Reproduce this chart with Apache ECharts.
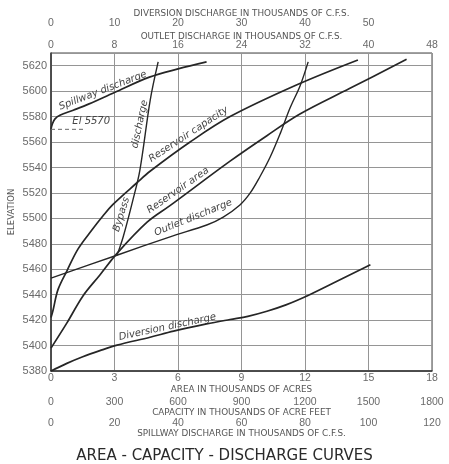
<!DOCTYPE html>
<html>
<head>
<meta charset="utf-8">
<script src="https://cdn.jsdelivr.net/npm/echarts@6/dist/echarts.min.js"></script>
<style>
html,body{margin:0;padding:0;background:#fff;}
#c{width:449px;height:464px;}
</style>
</head>
<body>
<div id="c"></div>
<script>
// ---- Data ----
// Spillway discharge (thousands of c.f.s.) vs elevation
const spillwayQ    = [0, 0.4, 1.2, 2.8, 7, 12, 20, 31, 40, 49];
const spillwayElev = [5570, 5574, 5578, 5581, 5585, 5590, 5599, 5611, 5617.5, 5623];
// El 5570 reference (spillway crest), spillway units
const crestQ    = [0, 11];
const crestElev = [5570, 5570];
// Bypass discharge (outlet scale, thousands of c.f.s.)
const bypassQ    = [8.3, 8.6, 9.1, 10.3, 11.2, 12.5, 13.5];
const bypassElev = [5471, 5476, 5485.5, 5514, 5538, 5593, 5623];
// Outlet discharge (thousands of c.f.s.)
const outletQ    = [0, 8.3, 15, 19.7, 21.7, 23.8, 25.1, 26.3, 27.6, 28.9, 30.1, 31.4, 32.4];
const outletElev = [5453, 5471, 5485.5, 5495, 5501, 5510.5, 5520, 5532.5, 5548, 5567, 5586.5, 5604.5, 5623];
// Reservoir capacity (thousands of acre feet)
const capacityQ    = [0, 10, 33, 76, 128, 194, 246, 293, 406, 468, 657, 846, 1162, 1450];
const capacityElev = [5422, 5428, 5444, 5459, 5476, 5491, 5502, 5511, 5528, 5537, 5560, 5580, 5605, 5624.5];
// Reservoir area (thousands of acres)
const areaQ    = [0, 0.76, 1.51, 2.31, 3.12, 4.54, 5.62, 8.46, 10.2, 11.76, 14.1, 16.8];
const areaElev = [5398, 5418, 5439, 5455.5, 5472.5, 5497, 5510, 5545, 5565, 5582, 5602, 5625];
// Diversion discharge (thousands of c.f.s.)
const diversionQ    = [0, 2.5, 5, 7.7, 10.4, 15.6, 19.3, 24.5, 28.2, 31, 34, 37, 40.3, 44, 50.3];
const diversionElev = [5380, 5386, 5391.2, 5396, 5400.3, 5406.5, 5411.3, 5417, 5420.5, 5423, 5427, 5432, 5439, 5448, 5463.5];

// Axis ranges / tick steps
const elevRange = [5380, 5630], elevStep = 20;
const areaRange = [0, 18], areaStep = 3;
const capRange = [0, 1800], capStep = 300;
const spillRange = [0, 120], spillStep = 20;
const outletRange = [0, 48], outletStep = 8;
const divRange = [0, 60], divStep = 10;

// Curve labels: text, anchor in (area, elevation) coordinates, rotation in degrees
const curveLabels = [
  {text: 'Spillway discharge', at: [2.45, 5600.5], rot: 21},
  {text: 'El 5570', at: [1.9, 5576], rot: 0},
  {text: 'discharge', at: [4.2, 5574], rot: 78},
  {text: 'Bypass', at: [3.33, 5503], rot: 73},
  {text: 'Reservoir capacity', at: [6.5, 5566], rot: 33.5},
  {text: 'Reservoir area', at: [6.0, 5522], rot: 35},
  {text: 'Outlet discharge', at: [6.72, 5500.5], rot: 22},
  {text: 'Diversion discharge', at: [5.5, 5414.5], rot: 12}
];

const zip = (a, b) => a.map((v, i) => [v, b[i]]);

const LINE = '#262626';
const GRID = '#959595';
const TXT = '#555';
const FONT = 'Liberation Sans';
const NAMEFONT = 'DejaVu Sans';

function sideAxis(name, range, step, pos, offset, nameGap, extra) {
  return Object.assign({
    type: 'value', position: pos, offset: offset,
    min: range[0], max: range[1], interval: step,
    name: name, nameLocation: 'middle', nameGap: nameGap, nameMoveOverlap: false,
    nameTextStyle: {fontFamily: NAMEFONT, fontSize: 8.8, color: TXT},
    axisLine: {show: false}, axisTick: {show: false},
    axisLabel: {fontFamily: FONT, fontSize: 10.5, color: '#6a6a6a', margin: 2, formatter: v => String(v)},
    splitLine: {show: false}
  }, extra || {});
}

const chart = echarts.init(document.getElementById('c'), null, {renderer: 'canvas'});

const lineSeries = (name, data, xi, extra) => Object.assign({
  name: name, type: 'line', xAxisIndex: xi, yAxisIndex: 0,
  data: data, showSymbol: false, smooth: 0.35, silent: true,
  lineStyle: {color: LINE, width: 1.7}
}, extra || {});

const option = {
  animation: false,
  backgroundColor: '#fff',
  title: {
    text: 'AREA - CAPACITY - DISCHARGE CURVES',
    left: 'center', top: 444,
    textStyle: {fontFamily: 'DejaVu Sans', fontSize: 15, fontWeight: 'normal', color: '#2a2a2a'}
  },
  grid: {left: 51, right: 17, top: 53, bottom: 93, show: true, borderColor: '#444', borderWidth: 1,
    backgroundColor: 'transparent', containLabel: false, outerBoundsMode: 'none'},
  xAxis: [
    sideAxis('AREA IN THOUSANDS OF ACRES', areaRange, areaStep, 'bottom', 0, 14, {
      axisLine: {show: true, lineStyle: {color: '#333', width: 1.5}},
      splitLine: {show: true, lineStyle: {color: GRID, width: 1}}
    }),
    sideAxis('CAPACITY IN THOUSANDS OF ACRE FEET', capRange, capStep, 'bottom', 24, 13),
    sideAxis('SPILLWAY DISCHARGE IN THOUSANDS OF C.F.S.', spillRange, spillStep, 'bottom', 45, 13),
    sideAxis('OUTLET DISCHARGE IN THOUSANDS OF C.F.S.', outletRange, outletStep, 'top', 0, 12),
    sideAxis('DIVERSION DISCHARGE IN THOUSANDS OF C.F.S.', divRange, divStep, 'top', 22, 12.5, {
      axisLabel: {fontFamily: FONT, fontSize: 10.5, color: '#6a6a6a', margin: 2, showMaxLabel: false, formatter: v => String(v)}
    })
  ],
  yAxis: [{
    type: 'value', min: elevRange[0], max: elevRange[1], interval: elevStep,
    name: 'ELEVATION', nameLocation: 'middle', nameGap: 35, nameMoveOverlap: false,
    nameTextStyle: {fontFamily: NAMEFONT, fontSize: 8.5, color: TXT},
    axisLine: {show: true, lineStyle: {color: '#333', width: 1.5}},
    axisTick: {show: false},
    axisLabel: {fontFamily: FONT, fontSize: 11, color: '#6a6a6a', margin: 4, showMaxLabel: false,
      formatter: v => (v > 5620 ? '' : String(v))},
    splitLine: {show: true, lineStyle: {color: GRID, width: 1}}
  }],
  series: [
    lineSeries('Spillway discharge', zip(spillwayQ, spillwayElev), 2),
    lineSeries('El 5570', zip(crestQ, crestElev), 2, {smooth: false, lineStyle: {color: '#666', width: 1, type: [4, 3]}}),
    lineSeries('Bypass discharge', zip(bypassQ, bypassElev), 3, {lineStyle: {color: LINE, width: 1.4}}),
    lineSeries('Outlet discharge', zip(outletQ, outletElev), 3, {lineStyle: {color: LINE, width: 1.4}}),
    lineSeries('Reservoir capacity', zip(capacityQ, capacityElev), 1),
    lineSeries('Reservoir area', zip(areaQ, areaElev), 0),
    lineSeries('Diversion discharge', zip(diversionQ, diversionElev), 4)
  ]
};

chart.setOption(option);

const graphics = curveLabels.map(l => {
  const p = chart.convertToPixel({xAxisIndex: 0, yAxisIndex: 0}, l.at);
  return {
    type: 'text', x: p[0], y: p[1], rotation: l.rot * Math.PI / 180, silent: true,
    style: {
      text: l.text, fill: '#444',
      font: 'italic 10px "DejaVu Sans"',
      align: 'center', verticalAlign: 'middle',
      textAlign: 'center', textVerticalAlign: 'middle'
    }
  };
});
chart.setOption({graphic: graphics});
</script>
</body>
</html>
